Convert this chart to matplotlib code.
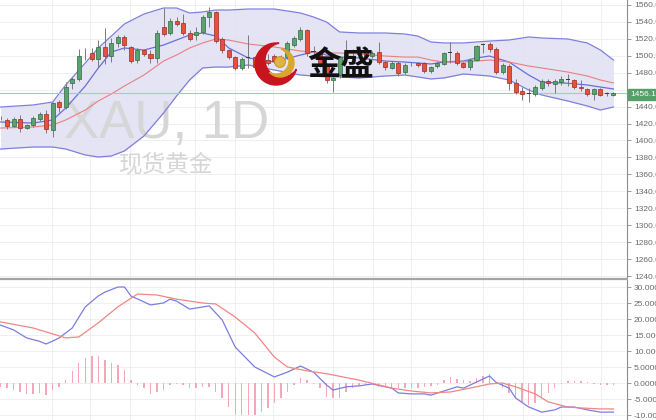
import numpy as np
import matplotlib.pyplot as plt
from matplotlib.patches import Rectangle, Circle, Polygon

plt.rcParams['font.family'] = ['Liberation Sans', 'DejaVu Sans']

# daily candles, XAU
opens = [1426.0, 1424.2, 1417.5, 1425.3, 1414.7, 1418.3, 1425.3, 1431.3, 1412.4, 1445.4,
         1439.5, 1467.9, 1472.6, 1498.5, 1503.3, 1496.2, 1510.4, 1499.7, 1515.1, 1522.2,
         1510.4, 1495.0, 1506.8, 1502.1, 1497.4, 1534.0, 1526.9, 1541.0, 1538.7, 1526.9,
         1524.5, 1528.0, 1545.8, 1551.7, 1519.8, 1506.8, 1498.5, 1485.6, 1497.4, 1498.5,
         1486.7, 1495.0, 1499.7, 1493.8, 1498.5, 1512.7, 1519.8, 1530.4, 1504.5, 1503.3,
         1490.0, 1471.0, 1477.0, 1498.5, 1504.4, 1502.0, 1506.0, 1500.0, 1504.4, 1492.6,
         1485.6, 1491.5, 1480.8, 1491.0, 1491.5, 1491.5, 1482.0, 1487.9, 1490.3, 1503.3,
         1503.3, 1491.5, 1486.7, 1495.0, 1512.7, 1513.9, 1508.0, 1480.8, 1487.9, 1467.9,
         1458.4, 1454.9, 1454.9, 1462.0, 1470.2, 1466.7, 1469.0, 1471.4, 1471.4, 1463.1,
         1460.8, 1454.9, 1460.8, 1455.0, 1454.0]
highs = [1428.5, 1426.5, 1428.0, 1429.5, 1420.0, 1429.0, 1434.0, 1436.0, 1446.0, 1448.0,
         1469.0, 1475.0, 1508.0, 1509.0, 1509.5, 1518.6, 1533.0, 1521.0, 1524.5, 1524.5,
         1512.0, 1509.0, 1508.0, 1506.8, 1530.4, 1556.0, 1544.6, 1545.8, 1549.0, 1530.0,
         1534.0, 1548.0, 1557.6, 1553.0, 1522.0, 1508.0, 1500.0, 1498.0, 1524.5, 1500.0,
         1497.0, 1502.0, 1502.0, 1501.0, 1517.0, 1523.0, 1534.0, 1532.0, 1512.0, 1506.0,
         1492.0, 1480.0, 1500.0, 1518.6, 1508.0, 1509.0, 1508.0, 1506.0, 1516.0, 1494.0,
         1494.0, 1494.0, 1491.0, 1493.0, 1493.0, 1493.0, 1488.0, 1494.0, 1505.0, 1516.0,
         1506.0, 1493.0, 1497.0, 1513.0, 1515.0, 1516.0, 1510.0, 1491.0, 1490.0, 1472.0,
         1463.0, 1462.0, 1465.0, 1473.0, 1472.0, 1472.0, 1476.0, 1478.0, 1473.0, 1471.0,
         1462.0, 1462.0, 1462.0, 1457.0, 1457.5]
lows = [1424.0, 1414.0, 1416.0, 1410.5, 1413.0, 1416.0, 1423.0, 1408.5, 1404.0, 1434.0,
        1437.0, 1461.0, 1470.0, 1495.0, 1494.0, 1486.7, 1490.0, 1492.6, 1510.0, 1506.8,
        1491.0, 1491.5, 1500.0, 1491.5, 1491.5, 1523.0, 1524.0, 1535.0, 1525.0, 1518.0,
        1518.6, 1526.0, 1534.0, 1515.0, 1503.0, 1496.0, 1483.0, 1483.0, 1485.6, 1484.0,
        1484.0, 1489.0, 1491.0, 1490.0, 1496.0, 1510.0, 1517.0, 1500.0, 1500.0, 1487.0,
        1468.0, 1457.0, 1474.0, 1496.0, 1500.0, 1499.0, 1498.0, 1497.0, 1490.0, 1483.0,
        1484.0, 1476.0, 1478.0, 1488.0, 1487.0, 1480.0, 1480.0, 1486.0, 1489.0, 1491.5,
        1489.0, 1485.0, 1483.0, 1494.0, 1503.0, 1505.0, 1478.0, 1479.0, 1460.0, 1455.0,
        1447.8, 1445.4, 1452.0, 1460.0, 1464.0, 1456.0, 1466.0, 1464.0, 1461.0, 1459.0,
        1453.0, 1447.8, 1452.0, 1453.0, 1453.0]
closes = [1426.6, 1417.1, 1425.3, 1414.7, 1418.3, 1426.5, 1431.3, 1413.5, 1444.2, 1439.5,
          1463.1, 1472.6, 1499.7, 1498.0, 1496.2, 1510.4, 1499.7, 1515.1, 1522.2, 1512.7,
          1493.8, 1506.8, 1502.1, 1497.4, 1526.9, 1525.7, 1541.0, 1537.5, 1526.9, 1519.8,
          1528.0, 1545.8, 1551.7, 1517.4, 1506.8, 1498.5, 1485.6, 1496.2, 1498.0, 1486.7,
          1495.0, 1492.0, 1493.8, 1499.0, 1515.1, 1521.0, 1530.4, 1503.3, 1505.0, 1490.0,
          1471.4, 1474.0, 1498.5, 1504.5, 1504.0, 1506.0, 1500.0, 1503.0, 1492.6, 1486.7,
          1491.5, 1479.7, 1489.1, 1491.5, 1489.1, 1482.0, 1486.7, 1491.5, 1503.3, 1503.8,
          1491.5, 1486.7, 1495.0, 1511.5, 1513.0, 1508.0, 1480.8, 1489.1, 1467.9, 1457.2,
          1454.9, 1455.5, 1463.1, 1470.2, 1467.9, 1470.2, 1472.6, 1472.0, 1463.1, 1462.0,
          1454.9, 1460.8, 1453.7, 1455.5, 1456.18]
last_price = 1456.18

# bollinger bands + moving averages, read at these candle indices
bb_idx = [0, 5, 8, 10, 13, 15, 17, 19, 22, 25, 27, 29, 31, 33, 35, 38, 42, 46, 48,
          50, 52, 55, 59, 62, 64, 66, 68, 71, 73, 75, 78, 81, 83, 87, 90, 92, 94]
bb_upper = [1439.5, 1441.9, 1445.4, 1465.5, 1491.5, 1509.2, 1523.3, 1537.5, 1549.3, 1556.4,
            1556.4, 1550.5, 1551.7, 1554.0, 1554.0, 1555.2, 1555.2, 1550.5, 1545.8, 1539.9,
            1528.1, 1526.9, 1526.9, 1525.7, 1523.3, 1516.3, 1515.1, 1515.1, 1516.3, 1517.4,
            1518.6, 1522.2, 1521.0, 1519.8, 1515.1, 1506.8, 1495.0]
bb_lower = [1389.9, 1392.3, 1392.3, 1389.9, 1382.9, 1380.5, 1381.7, 1387.6, 1405.3, 1432.4,
            1452.5, 1471.4, 1485.6, 1486.7, 1486.7, 1489.1, 1483.2, 1477.3, 1476.1, 1475.0,
            1475.0, 1473.8, 1476.1, 1477.3, 1475.0, 1472.6, 1473.8, 1478.5, 1477.3, 1476.1,
            1471.4, 1459.6, 1453.7, 1446.6, 1440.7, 1436.0, 1439.5]
ma_slow = [1414.7, 1415.9, 1418.3, 1424.2, 1436.0, 1446.6, 1454.9, 1464.3, 1477.3, 1493.8,
           1500.9, 1509.2, 1515.1, 1519.8, 1518.6, 1513.9, 1510.4, 1505.6, 1504.5, 1503.3,
           1503.3, 1502.1, 1499.7, 1498.5, 1498.5, 1495.0, 1492.6, 1492.6, 1493.8, 1495.0,
           1492.6, 1487.9, 1485.6, 1480.8, 1476.1, 1471.4, 1467.9]
ma_fast = [1421.8, 1420.6, 1424.2, 1438.3, 1464.3, 1485.6, 1504.5, 1509.2, 1506.8, 1512.7,
           1518.6, 1524.5, 1526.9, 1523.3, 1509.2, 1497.4, 1492.6, 1500.9, 1504.5, 1500.9,
           1498.5, 1497.4, 1493.8, 1492.6, 1491.5, 1490.3, 1492.6, 1493.8, 1497.4, 1499.7,
           1492.6, 1477.3, 1468.8, 1467.6, 1465.5, 1463.1, 1460.8]

# MACD panel
macd_idx = [0, 2, 4, 6, 7, 8, 9, 11, 13, 15, 16, 18, 19, 20, 23, 25, 26, 27, 29, 32,
            34, 36, 39, 42, 44, 46, 48, 50, 51, 53, 55, 57, 60, 61, 63, 65, 66, 68, 70, 71,
            73, 75, 76, 78, 79, 81, 83, 85, 86, 88, 90, 92, 94]
macd_val = [18.1, 16.6, 14.1, 13.0, 12.2, 13.1, 14.1, 17.2, 23.8, 27.2, 28.4, 30.0, 30.0,
            27.2, 24.4, 25.0, 26.2, 25.6, 23.1, 24.1, 19.7, 11.2, 5.0, 1.9, 3.4, 5.3, 3.4,
            -0.6, -2.2, -1.2, -0.9, -0.3, -1.6, -3.1, -3.4, -3.4, -3.8, -2.5, -1.2, -1.6,
            0.3, 2.2, 0.2, -1.6, -4.7, -7.5, -9.1, -8.4, -7.5, -7.5, -8.4, -9.1, -9.1]
sig_idx = [0, 5, 10, 12, 15, 18, 21, 24, 27, 31, 33, 36, 39, 42, 44, 47, 50, 55, 58, 60,
           63, 66, 69, 72, 75, 77, 79, 82, 84, 87, 89, 92, 94]
sig_val = [19.1, 17.2, 14.1, 14.4, 18.8, 23.8, 27.8, 27.5, 26.2, 25.0, 24.7, 20.6, 15.6,
           8.1, 5.0, 3.8, 2.9, 0.9, -0.6, -1.6, -2.5, -3.1, -2.8, -1.6, -0.3, 0.0, -1.2,
           -3.4, -5.9, -7.5, -7.8, -8.1, -8.1]
hist = [-1.4, -1.7, -2.1, -2.7, -3.4, -3.4, -3.2, -3.75, -2.1, -1.1,
        1.0, 3.6, 6.2, 7.7, 8.3, 8.5, 7.3, 6.4, 5.7, 4.1,
        1.0, -0.6, -1.7, -3.4, -2.7, -2.1, -0.6, -0.2, -0.6, -1.7,
        -1.7, -1.4, -1.1, -2.7, -4.8, -7.4, -10.0, -10.0, -10.0, -10.0,
        -9.0, -7.9, -6.3, -4.8, -2.7, -0.6, 1.5, 1.0, -0.3, -1.5,
        -4.3, -4.8, -4.8, -2.7, -1.5, -0.8, -0.5, -0.3, -1.2, -1.4,
        -1.6, -1.7, -1.7, -1.7, -1.5, -1.4, -1.0, -0.5, 1.0, 1.9,
        1.4, 1.0, 0.6, 1.5, 2.2, 2.9, 0.0, -1.6, -3.2, -4.8,
        -5.8, -6.9, -6.3, -4.8, -3.2, -1.7, -0.4, 0.5, 0.6, 0.6,
        0.2, -0.2, -0.5, -0.6, -0.5]

price_ticks = list(range(1240, 1561, 20))
macd_ticks = [30, 25, 20, 15, 10, 5, 0, -5, -10]
macd_labels = ["30.0000", "25.0000", "20.0000", "15.0000", "10.0000",
               "5.0000", "0.0000", "-5.0000", "-10.000"]
vgrid = [7.9, 13.7, 19.9, 29.8, 36, 41.8, 51, 57.1, 63, 74, 80.1, 86, 92.1]

W, H = 656, 420
grid_c = "#ececec"
axis_c = "#8c8c8c"
band_c = "#7f7fdc"

fig = plt.figure(figsize=(W / 100, H / 100), dpi=100)
ax = fig.add_axes([0, 142 / H, 627 / W, 278 / H])
ax2 = fig.add_axes([0, 0, 627 / W, 140 / H])

for a in (ax, ax2):
    a.set_xlim(-0.08, 96.08)
    for s in ("left", "top", "bottom"):
        a.spines[s].set_visible(False)
    a.spines["right"].set_color(axis_c)
    a.yaxis.tick_right()
    a.set_xticks([])
    a.tick_params(axis="y", direction="out", length=3, width=0.6, pad=2,
                  labelsize=6, colors=axis_c, labelcolor="#6a6a6a")
    for v in vgrid:
        a.axvline(v, color=grid_c, lw=0.6, zorder=0)

ax.set_ylim(1237.65, 1565.85)
ax.set_yticks(price_ticks)
# the 1460 label sits under the last-price tag
ax.set_yticklabels(["" if t == 1460 else f"{t:.2f}" for t in price_ticks])
for t in price_ticks:
    ax.axhline(t, color=grid_c, lw=0.6, zorder=0)

ax2.set_ylim(-11.56, 32.19)
ax2.set_yticks(macd_ticks)
ax2.set_yticklabels(macd_labels)
for t in macd_ticks:
    ax2.axhline(t, color=grid_c, lw=0.6, zorder=0)

# watermark
wm = "#d6d6d6"
ax.text(64 / W, 1 - 138 / H, "XAU, 1D", fontsize=38, color=wm, ha="left",
        va="baseline", transform=fig.transFigure, zorder=1.5)
ax.text(166 / W, 1 - 165 / H, "现货黄金", fontsize=17, color=wm, ha="center",
        va="center", transform=fig.transFigure, zorder=1.5,
        family=["Noto Sans CJK SC", "DejaVu Sans"])

# bands
ax.fill_between(bb_idx, bb_lower, bb_upper, color="#e0e0f4", alpha=0.85, lw=0, zorder=1)
ax.plot(bb_idx, bb_upper, color=band_c, lw=0.9, zorder=2)
ax.plot(bb_idx, bb_lower, color=band_c, lw=0.9, zorder=2)
ax.plot(bb_idx, ma_fast, color="#6d6dd8", lw=0.9, zorder=2)
ax.plot(bb_idx, ma_slow, color="#e88080", lw=0.8, zorder=2)
ax.axhline(last_price, color="#a6cdb1", lw=0.8, zorder=2)

# candles
o = np.array(opens)
c = np.array(closes)
idx = np.arange(len(o))
bottom = np.minimum(o, c)
height = np.maximum(np.abs(c - o), 0.9)
doji = np.abs(c - o) < 1.0
up = (c >= o) & ~doji
down = (c < o) & ~doji
ax.vlines(idx, lows, highs, color="#7a7a7a", lw=0.7, zorder=3)
ax.bar(idx[up], height[up], bottom=bottom[up], width=0.62, color="#5ca271",
       edgecolor="#2f6b3f", lw=0.5, zorder=4)
ax.bar(idx[down], height[down], bottom=bottom[down], width=0.62, color="#e6503e",
       edgecolor="#a02a1c", lw=0.5, zorder=4)
ax.bar(idx[doji], height[doji], bottom=bottom[doji], width=0.62, color="#3a3a3a",
       lw=0, zorder=4)

# MACD
ax2.bar(idx, hist, width=0.22, color="#f4a7b6", zorder=2)
ax2.plot(macd_idx, macd_val, color="#7c7ce2", lw=0.9, zorder=3)
ax2.plot(sig_idx, sig_val, color="#f08686", lw=0.9, zorder=3)

# overlay in pixel space: divider, price tag, logo
ov = fig.add_axes([0, 0, 1, 1])
ov.set_xlim(0, W)
ov.set_ylim(H, 0)
ov.axis("off")
ov.plot([0, 628], [279, 279], color="#a4a4a4", lw=1.6, solid_capstyle="butt")
ov.add_patch(Rectangle((628, 88.5), 30, 11, color="#559f69", zorder=5))
ov.text(630.5, 94.5, f"{last_price:.2f}", color="white", fontsize=6, va="center",
        ha="left", zorder=6)


def crescent(c1, r1, c2, r2, n=720):
    c1 = np.array(c1, float)
    c2 = np.array(c2, float)
    d = c2 - c1
    beta = np.arctan2(d[1], d[0]) + np.pi
    t = np.linspace(-np.pi, np.pi, n)
    p1 = c1 + r1 * np.c_[np.cos(beta + t), np.sin(beta + t)]
    p2 = c2 + r2 * np.c_[np.cos(beta + t), np.sin(beta + t)]
    k1 = np.hypot(*(p1 - c2).T) > r2
    k2 = np.hypot(*(p2 - c1).T) < r1
    return np.vstack([p1[k1], p2[k2][::-1]])


ov.add_patch(Polygon(crescent((276, 64), 21, (282, 60), 17), closed=True,
                     color="#c8141e", zorder=5))
ov.add_patch(Polygon(crescent((280, 63), 14, (276, 61), 13), closed=True,
                     color="#d9a62e", zorder=5))
ov.add_patch(Circle((280, 62), 5.5, color="#e2b33a", ec="#b8861c", lw=0.5, zorder=6))
ov.text(341, 66, "金盛", fontsize=24, color="#111111", ha="center", va="center",
        weight="bold", family=["Noto Sans CJK SC", "DejaVu Sans"], zorder=6)

fig.savefig("out.png", dpi=100, facecolor="white")
